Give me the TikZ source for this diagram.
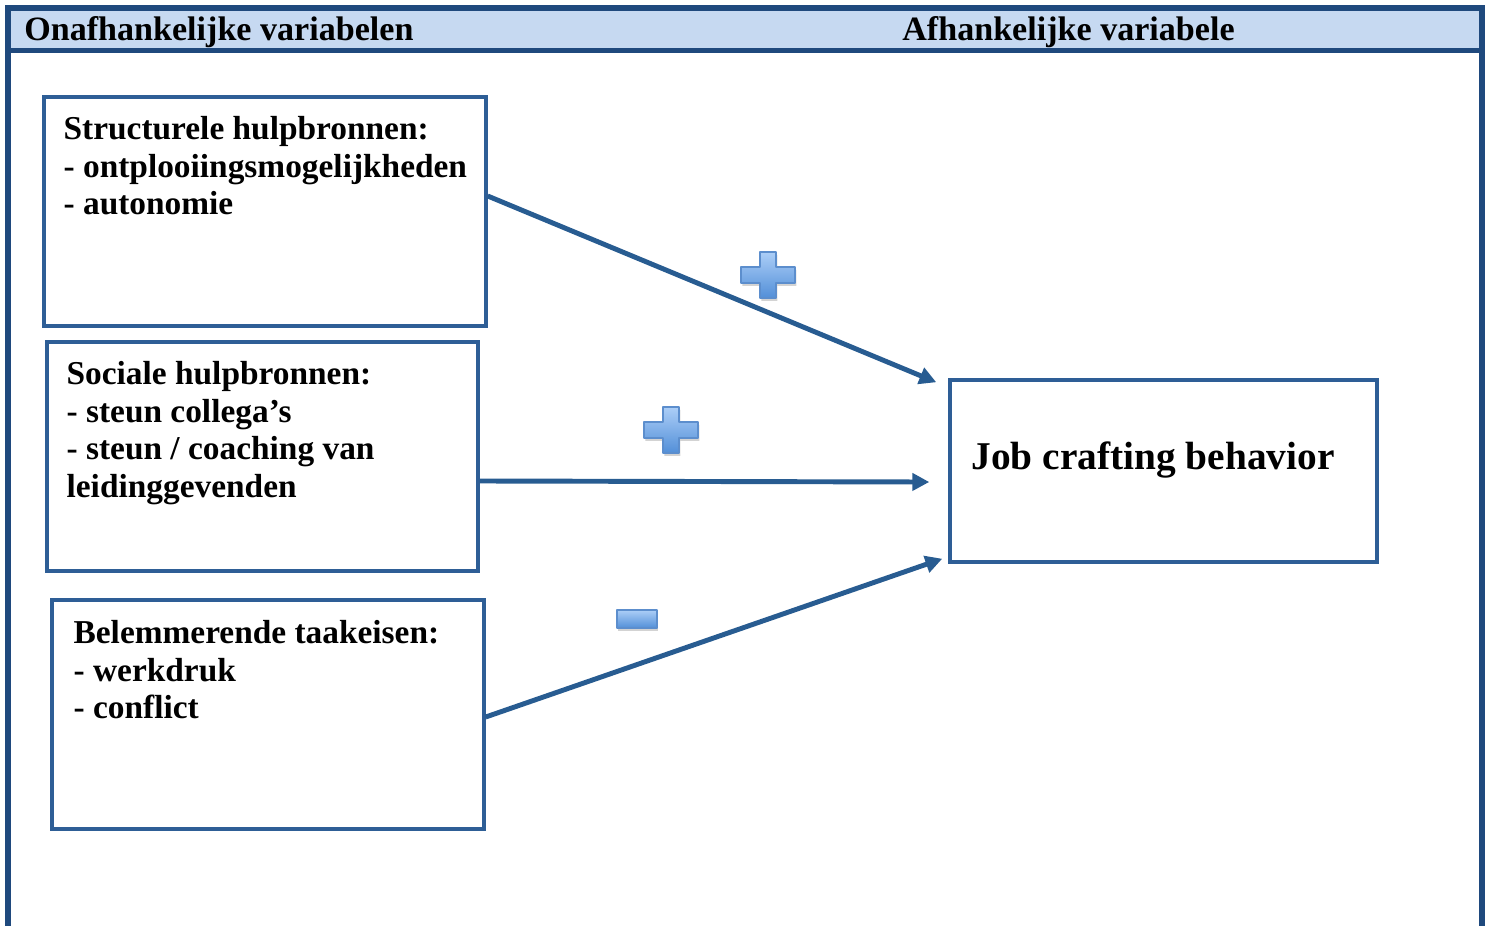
\documentclass[tikz,border=0pt]{standalone}
\usepackage{fontspec}
\setmainfont{Liberation Serif}
\usepackage{tikz}
\usetikzlibrary{arrows.meta, positioning, calc, shadows}

\definecolor{framecol}{RGB}{31,73,125}
\definecolor{headfill}{RGB}{198,217,241}
\definecolor{boxcol}{RGB}{46,94,150}
\definecolor{linkcol}{RGB}{40,92,145}
\definecolor{signtop}{RGB}{172,206,247}
\definecolor{signbot}{RGB}{82,143,216}
\definecolor{signline}{RGB}{92,142,205}

\tikzset{
  signfill/.style={top color=signtop, bottom color=signbot, draw=signline,
                   line width=0.8pt, line join=round,
                   drop shadow={shadow xshift=0.8pt, shadow yshift=-1.6pt, opacity=0.35}},
  plusmark/.pic={
    \path[signfill] (-27,-8) -- (-8,-8) -- (-8,-23) -- (8,-23) -- (8,-8) -- (27,-8)
      -- (27,8) -- (8,8) -- (8,23) -- (-8,23) -- (-8,8) -- (-27,8) -- cycle;
  },
  minusmark/.pic={
    \path[signfill] (-20,-9) rectangle (20,9);
  },
}

\begin{document}
\begin{tikzpicture}[
    x=0.02cm, y=-0.02cm,
    varbox/.style={rectangle, draw=boxcol, line width=2pt, inner sep=0pt,
                   minimum height=4.58cm},
    txt/.style={anchor=north west, inner sep=0pt, align=left,
                font=\fontsize{19}{21.3}\selectfont\bfseries},
    headtxt/.style={anchor=base west, inner sep=0pt,
                    font=\fontsize{19.4}{22}\selectfont\bfseries},
    arr/.style={-{Triangle[length=9.6pt, width=9.6pt]}, draw=linkcol,
                line width=2.8pt},
]
\useasboundingbox (0,0) rectangle (1491,926);

% frame and header band
\fill[headfill] (11,11) rectangle (1479,49);
\draw[framecol, line width=3.3pt] (8,926) -- (8,8) -- (1482,8) -- (1482,926);
\draw[framecol, line width=3.1pt] (8,50.5) -- (1482,50.5);
\node[headtxt] (hleft) at (24,40.5) {Onafhankelijke variabelen};
\node[headtxt] (hright) at (902,40.5) {Afhankelijke variabele};

% independent variables
\node[varbox, minimum width=8.84cm] (struct) at (265,211.5) {};
\node[varbox, minimum width=8.62cm] (social) at (262.5,456.5) {};
\node[varbox, minimum width=8.64cm] (demand) at (268,714.5) {};
\node[txt, below right=0.42cm and 0.42cm of struct.north west] (structtxt)
    {Structurele hulpbronnen:\\- ontplooiingsmogelijkheden\\- autonomie};
\node[txt, below right=0.42cm and 0.42cm of social.north west] (socialtxt)
    {Sociale hulpbronnen:\\- steun collega’s\\- steun / coaching van\\leidinggevenden};
\node[txt, below right=0.44cm and 0.46cm of demand.north west] (demandtxt)
    {Belemmerende taakeisen:\\- werkdruk\\- conflict};

% dependent variable
\node[varbox, minimum width=8.54cm, minimum height=3.64cm] (job) at (1163.5,471) {};
\node[txt, font=\fontsize{22.4}{26}\selectfont\bfseries,
      below right=1.26cm and 0.46cm of job.north west] (jobtxt) {Job crafting behavior};

% effects
\draw[arr] ($(struct.east)+(0,-15.5)$) -- ($(job.north west)+(-12,4)$);
\draw[arr] ($(social.east)+(0,24.5)$) -- ($(job.west)+(-19,11)$);
\draw[arr] ($(demand.east)+(0,2.5)$) -- ($(job.south west)+(-6,-5)$);

\pic at (768,275) {plusmark};
\pic at (671,430) {plusmark};
\pic at (637,619) {minusmark};
\end{tikzpicture}
\end{document}
